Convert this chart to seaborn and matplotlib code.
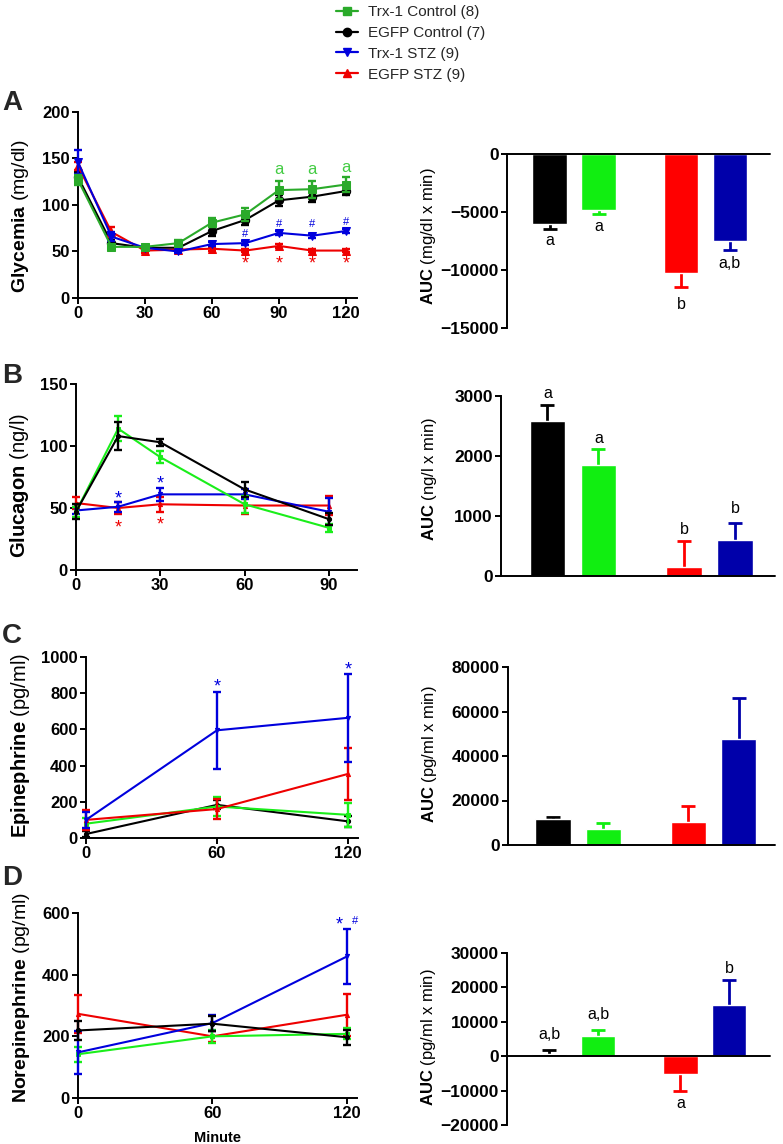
import numpy as np
import pandas as pd
import matplotlib
matplotlib.use("Agg")
import matplotlib.pyplot as plt
from matplotlib.lines import Line2D
import seaborn as sns

sns.set_theme(style="ticks")
plt.rcParams["font.family"] = ["Liberation Sans", "DejaVu Sans"]
plt.rcParams["mathtext.fontset"] = "custom"
plt.rcParams["mathtext.rm"] = "Liberation Sans"
plt.rcParams["mathtext.bf"] = "Liberation Sans:bold"

# ---------------- data ----------------
groups = ["Trx-1 Control (8)", "EGFP Control (7)", "Trx-1 STZ (9)", "EGFP STZ (9)"]

# Panel A: glycemia
times_A = [0, 15, 30, 45, 60, 75, 90, 105, 120]
glyc_trx_ctrl = [127, 55, 55, 59, 81, 90, 116, 117, 122]
glyc_trx_ctrl_sem = [5, 2, 2, 3, 5, 7, 10, 9, 8]
glyc_egfp_ctrl = [130, 59, 54, 54, 72, 84, 105, 109, 115]
glyc_egfp_ctrl_sem = [6, 3, 2, 2, 5, 6, 6, 6, 4]
glyc_trx_stz = [146, 66, 54, 50, 58, 59, 70, 67, 72]
glyc_trx_stz_sem = [13, 5, 2, 2, 2, 2, 2, 2, 2]
glyc_egfp_stz = [142, 71, 51, 52, 53, 51, 56, 51, 51]
glyc_egfp_stz_sem = [4, 5, 3, 2, 2, 2, 2, 2, 2]

# Panel B: glucagon
times_B = [0, 15, 30, 60, 90]
gcg_trx_ctrl = [47, 114, 91, 53, 34]
gcg_trx_ctrl_sem = [4, 10, 5, 7, 3]
gcg_egfp_ctrl = [47, 108, 103, 65, 41]
gcg_egfp_ctrl_sem = [6, 11, 3, 6, 5]
gcg_trx_stz = [48, 51, 61, 61, 47]
gcg_trx_stz_sem = [3, 4, 5, 4, 11]
gcg_egfp_stz = [54, 50, 53, 52, 52]
gcg_egfp_stz_sem = [5, 5, 6, 7, 8]

# Panel C: epinephrine
times_C = [0, 60, 120]
epi_trx_ctrl = [79, 174, 128]
epi_trx_ctrl_sem = [30, 55, 68]
epi_egfp_ctrl = [22, 183, 92]
epi_egfp_ctrl_sem = [15, 25, 30]
epi_trx_stz = [100, 595, 664]
epi_trx_stz_sem = [45, 212, 244]
epi_egfp_stz = [100, 160, 354]
epi_egfp_stz_sem = [55, 55, 145]

# Panel D: norepinephrine
times_D = [0, 60, 120]
ne_trx_ctrl = [142, 200, 208]
ne_trx_ctrl_sem = [25, 20, 18]
ne_egfp_ctrl = [219, 241, 197]
ne_egfp_ctrl_sem = [30, 25, 25]
ne_trx_stz = [148, 243, 459]
ne_trx_stz_sem = [69, 27, 89]
ne_egfp_stz = [273, 200, 270]
ne_egfp_stz_sem = [62, 18, 68]

# AUC bars (order: EGFP Control, Trx-1 Control, EGFP STZ, Trx-1 STZ)
bar_groups = ["EGFP Control", "Trx-1 Control", "EGFP STZ", "Trx-1 STZ"]
auc_glyc = [-6050, -4870, -10260, -7540]
auc_glyc_sem = [430, 290, 1230, 770]
auc_gcg = [2583, 1850, 156, 600]
auc_gcg_sem = [267, 261, 433, 278]
auc_epi = [11560, 7060, 10510, 47600]
auc_epi_sem = [1200, 3000, 7210, 18470]
auc_ne = [580, 5730, -5150, 14950]
auc_ne_sem = [1260, 1940, 4850, 7280]

auc_glyc_labels = ["a", "a", "b", "a,b"]
auc_glyc_label_y = [-7480, -6250, -13000, -9400]
auc_gcg_labels = ["a", "a", "b", "b"]
auc_gcg_label_y = [3040, 2290, 767, 1128]
auc_ne_labels = ["a,b", "a,b", "a", "b"]
auc_ne_label_y = [6200, 12000, -13700, 25600]

# ---------------- style ----------------
W, H = 783, 1144
fig = plt.figure(figsize=(W / 100, H / 100), dpi=100)

GREEN_A = "#2aaa2a"
GREEN = "#1aee1a"
BLACK = "#000000"
BLUE = "#0000dd"
RED = "#ee0000"
BAR_COLORS = {"EGFP Control": "#000000", "Trx-1 Control": "#11ee11",
              "EGFP STZ": "#ff0000", "Trx-1 STZ": "#0000aa"}
bar_pos = [0, 1, 2.68, 3.68]


def rect(left_px, right_px, top_px, bottom_px):
    return [left_px / W, 1 - bottom_px / H, (right_px - left_px) / W, (bottom_px - top_px) / H]


def style_axes(ax, tick_fs):
    sns.despine(ax=ax)
    for s in ["left", "bottom"]:
        ax.spines[s].set_linewidth(1.4)
        ax.spines[s].set_color("black")
    ax.tick_params(width=1.4, length=4, labelsize=tick_fs, colors="black", direction="out", pad=2)
    for lab in ax.get_xticklabels() + ax.get_yticklabels():
        lab.set_fontweight("bold")


def line_panel(ax, times, series, xlim, ylim, yticks, xticks, ylabel, label_fs, label_xy,
               msize, marker_map):
    for name, vals, sems, color in series:
        df = pd.DataFrame({"t": times, "v": vals})
        sns.lineplot(data=df, x="t", y="v", color=color, marker=marker_map[name],
                     markersize=msize, markeredgecolor=color, linewidth=1.5,
                     errorbar=None, ax=ax, clip_on=False, zorder=3)
        ax.errorbar(times, vals, yerr=sems, fmt="none", ecolor=color, elinewidth=1.7,
                    capsize=3, capthick=1.7, clip_on=False, zorder=3)
    ax.set_xlim(*xlim)
    ax.set_ylim(*ylim)
    ax.set_xticks(xticks)
    ax.set_yticks(yticks)
    ax.set_xlabel("")
    ax.set_ylabel(ylabel, fontsize=label_fs, color="black")
    ax.yaxis.set_label_coords(*label_xy)
    style_axes(ax, 12)


def bar_panel(ax, vals, sems, xlim, ylim, yticks, ylabel, label_xy):
    df = pd.DataFrame({"pos": bar_pos, "v": vals, "g": bar_groups})
    sns.barplot(data=df, x="pos", y="v", hue="g", palette=BAR_COLORS, native_scale=True,
                width=0.7, errorbar=None, legend=False, ax=ax, saturation=1, zorder=2)
    for p, v, s, g in zip(bar_pos, vals, sems, bar_groups):
        end = v + s if v >= 0 else v - s
        ax.plot([p, p], [v, end], color=BAR_COLORS[g], lw=2, zorder=1,
                solid_capstyle="butt")
        ax.plot([p], [end], marker="_", markersize=10.5, mew=2, color=BAR_COLORS[g], zorder=1)
    ax.axhline(0, color="black", lw=1.4, zorder=4, clip_on=False)
    ax.set_xlim(*xlim)
    ax.set_ylim(*ylim)
    ax.set_yticks(yticks)
    ax.set_xticks([])
    ax.set_xlabel("")
    ax.set_ylabel(ylabel, fontsize=12, color="black")
    ax.yaxis.set_label_coords(*label_xy)
    style_axes(ax, 12.5)
    ax.spines["bottom"].set_visible(False)


markers = {"trx_ctrl": "s", "egfp_ctrl": "o", "trx_stz": "v", "egfp_stz": "^"}

# ---- Panel A ----
axA = fig.add_axes(rect(78, 357, 112, 298))
line_panel(axA, times_A, [
    ("egfp_ctrl", glyc_egfp_ctrl, glyc_egfp_ctrl_sem, BLACK),
    ("egfp_stz", glyc_egfp_stz, glyc_egfp_stz_sem, RED),
    ("trx_stz", glyc_trx_stz, glyc_trx_stz_sem, BLUE),
    ("trx_ctrl", glyc_trx_ctrl, glyc_trx_ctrl_sem, GREEN_A),
], (0, 125), (0, 200), [0, 50, 100, 150, 200], [0, 30, 60, 90, 120],
    r"$\mathbf{Glycemia}$ (mg/dl)", 14, (-0.168, 0.441), 6, markers)
for t, y in zip([90, 105, 120], [138, 138, 140]):
    axA.text(t, y, "a", color="#44cc44", fontsize=12, ha="center", va="center")
for t, y in zip([75, 90, 105, 120], [69, 80, 80, 82]):
    axA.text(t, y, "#", color=BLUE, fontsize=8, ha="center", va="center")
for t in [75, 90, 105, 120]:
    axA.text(t, 37, "*", color=RED, fontsize=13, ha="center", va="center")

axAb = fig.add_axes(rect(507, 770, 154, 328))
bar_panel(axAb, auc_glyc, auc_glyc_sem, (-0.87, 4.5), (-15000, 0),
          [0, -5000, -10000, -15000], r"$\mathbf{AUC}$ (mg/dl x min)", (-0.262, 0.529))
for p, t, y in zip(bar_pos, auc_glyc_labels, auc_glyc_label_y):
    axAb.text(p, y, t, fontsize=11.5, ha="center", va="center", color="black")

# ---- Panel B ----
axB = fig.add_axes(rect(76, 357, 384, 570))
line_panel(axB, times_B, [
    ("egfp_stz", gcg_egfp_stz, gcg_egfp_stz_sem, RED),
    ("trx_stz", gcg_trx_stz, gcg_trx_stz_sem, BLUE),
    ("trx_ctrl", gcg_trx_ctrl, gcg_trx_ctrl_sem, GREEN),
    ("egfp_ctrl", gcg_egfp_ctrl, gcg_egfp_ctrl_sem, BLACK),
], (0, 100), (0, 150), [0, 50, 100, 150], [0, 30, 60, 90],
    r"$\mathbf{Glucagon}$ (ng/l)", 14.5, (-0.16, 0.452), 3, markers)
for t, y in zip([15, 30], [60.5, 72]):
    axB.text(t, y - 3, "*", color=BLUE, fontsize=13, ha="center", va="center")
for t, y in zip([15, 30], [37, 39]):
    axB.text(t, y - 3, "*", color=RED, fontsize=13, ha="center", va="center")

axBb = fig.add_axes(rect(501, 775, 396, 576))
bar_panel(axBb, auc_gcg, auc_gcg_sem, (-0.91, 4.46), (0, 3000),
          [0, 1000, 2000, 3000], r"$\mathbf{AUC}$ (ng/l x min)", (-0.226, 0.539))
for p, t, y in zip(bar_pos, auc_gcg_labels, auc_gcg_label_y):
    axBb.text(p, y, t, fontsize=11.5, ha="center", va="center", color="black")

# ---- Panel C ----
axC = fig.add_axes(rect(86, 358, 657, 838))
line_panel(axC, times_C, [
    ("egfp_ctrl", epi_egfp_ctrl, epi_egfp_ctrl_sem, BLACK),
    ("trx_ctrl", epi_trx_ctrl, epi_trx_ctrl_sem, GREEN),
    ("egfp_stz", epi_egfp_stz, epi_egfp_stz_sem, RED),
    ("trx_stz", epi_trx_stz, epi_trx_stz_sem, BLUE),
], (0, 124.6), (0, 1000), [0, 200, 400, 600, 800, 1000], [0, 60, 120],
    r"$\mathbf{Epinephrine}$ (pg/ml)", 14.5, (-0.2, 0.514), 3, markers)
for t, y in zip([60, 120], [857, 949]):
    axC.text(t, y - 20, "*", color=BLUE, fontsize=13, ha="center", va="center")

axCb = fig.add_axes(rect(508, 775, 667, 845))
bar_panel(axCb, auc_epi, auc_epi_sem, (-0.89, 4.4), (0, 80000),
          [0, 20000, 40000, 60000, 80000], r"$\mathbf{AUC}$ (pg/ml x min)", (-0.258, 0.511))

# ---- Panel D ----
axD = fig.add_axes(rect(78, 357, 913, 1098))
line_panel(axD, times_D, [
    ("egfp_stz", ne_egfp_stz, ne_egfp_stz_sem, RED),
    ("trx_ctrl", ne_trx_ctrl, ne_trx_ctrl_sem, GREEN),
    ("trx_stz", ne_trx_stz, ne_trx_stz_sem, BLUE),
    ("egfp_ctrl", ne_egfp_ctrl, ne_egfp_ctrl_sem, BLACK),
], (0, 124.5), (0, 600), [0, 200, 400, 600], [0, 60, 120],
    r"$\mathbf{Norepinephrine}$ (pg/ml)", 14, (-0.165, 0.545), 3, markers)
axD.set_xlabel("Minute", fontsize=10.5, fontweight="bold", color="black", labelpad=7)
axD.text(116.5, 560, "*", color=BLUE, fontsize=13, ha="center", va="center")
axD.text(123.5, 573, "#", color=BLUE, fontsize=8, ha="center", va="center")

axDb = fig.add_axes(rect(507, 770, 953, 1125))
bar_panel(axDb, auc_ne, auc_ne_sem, (-0.86, 4.51), (-20000, 30000),
          [-20000, -10000, 0, 10000, 20000, 30000], r"$\mathbf{AUC}$ (pg/ml x min)",
          (-0.262, 0.512))
for p, t, y in zip(bar_pos, auc_ne_labels, auc_ne_label_y):
    axDb.text(p, y, t, fontsize=11.5, ha="center", va="center", color="black")

# panel letters
for letter, ypx in zip("ABCD", [110, 383, 643, 885]):
    fig.text(0.003, 1 - ypx / H, letter, fontsize=20, fontweight="bold", ha="left", va="baseline")

# legend
handles = [
    Line2D([], [], color=GREEN_A, marker="s", markersize=6, lw=1.6),
    Line2D([], [], color=BLACK, marker="o", markersize=6, lw=1.6),
    Line2D([], [], color=BLUE, marker="v", markersize=6, lw=1.6),
    Line2D([], [], color=RED, marker="^", markersize=6, lw=1.6),
]
fig.legend(handles, groups, loc="upper left", bbox_to_anchor=(336 / W, 1 - 5 / H),
           frameon=False, fontsize=11, borderpad=0, borderaxespad=0, handlelength=1.45,
           handletextpad=0.65, labelspacing=0.45)

fig.savefig("out.png", dpi=100)
